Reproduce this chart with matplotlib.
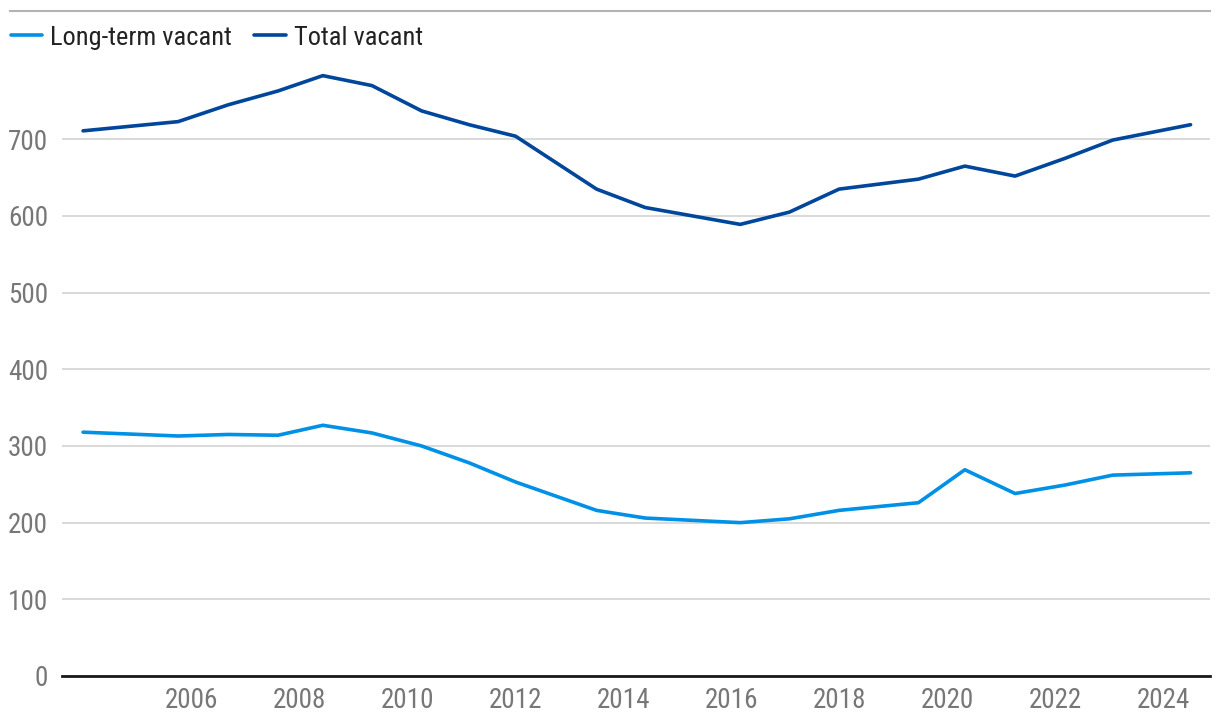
import matplotlib
matplotlib.use('Agg')
import matplotlib.pyplot as plt
from matplotlib import font_manager
from matplotlib.lines import Line2D

# look for a narrow sans face, fall back to DejaVu
installed = {f.name for f in font_manager.fontManager.ttflist}
narrow = [f for f in font_manager.fontManager.ttflist
          if ('Condensed' in f.name or 'Narrow' in f.name
              or 'condensed' in str(f.stretch)) and 'Sans' in f.name]
preferred = ['Roboto Condensed', 'Liberation Sans Narrow', 'Noto Sans Condensed',
             'Open Sans Condensed', 'DejaVu Sans Condensed']
family = next((p for p in preferred if p in installed), None)
stretch = 'normal'
if family is None and narrow:
    family = narrow[0].name
    stretch = narrow[0].stretch
if family is None:
    family = 'DejaVu Sans'
plt.rcParams['font.family'] = [family, 'DejaVu Sans']
plt.rcParams['font.stretch'] = stretch

# survey dates (decimal years)
dates = [2004.0, 2005.76, 2006.69, 2007.61, 2008.44, 2009.35, 2010.27, 2011.15,
         2012.01, 2013.51, 2014.41, 2016.17, 2017.08, 2018.0, 2019.47, 2020.33,
         2021.26, 2022.18, 2023.07, 2024.51]

long_term = [318, 313, 315, 314, 327, 317, 300, 278,
             253, 216, 206, 200, 205, 216, 226, 269,
             238, 249, 262, 265]

total = [711, 723, 745, 763, 783, 770, 737, 719,
         704, 635, 611, 589, 605, 635, 648, 665,
         652, 675, 699, 719]

year_ticks = list(range(2006, 2025, 2))
value_ticks = list(range(0, 701, 100))

fig = plt.figure(figsize=(12.2, 7.2), dpi=100)
ax = fig.add_axes([62 / 1220, 44 / 720, 1148 / 1220, 613.4 / 720])

ax.plot(dates, long_term, color='#0091E6', lw=2.6, solid_capstyle='round',
        label='Long-term vacant', zorder=3)
ax.plot(dates, total, color='#00479B', lw=2.6, solid_capstyle='round',
        label='Total vacant', zorder=3)

ax.set_xlim(2003.61, 2024.87)
ax.set_ylim(0, 800)
ax.set_xticks(year_ticks)
ax.set_yticks(value_ticks)
ax.tick_params(axis='both', length=0, labelsize=19.5, labelcolor='#777777')
ax.tick_params(axis='x', pad=8)
ax.tick_params(axis='y', pad=10)

ax.grid(axis='y', color='#d9d9d9', lw=1.4)
ax.set_axisbelow(True)
for side in ['top', 'right', 'left']:
    ax.spines[side].set_visible(False)
ax.spines['bottom'].set_color('#1a1a1a')
ax.spines['bottom'].set_linewidth(2)
ax.spines['bottom'].set_zorder(4)

# thin rule across the top of the figure
fig.add_artist(Line2D([10 / 1220, 1210 / 1220], [1 - 11 / 720, 1 - 11 / 720],
                      transform=fig.transFigure, color='#b3b3b3', lw=1.5))

fig.legend(loc='upper left', bbox_to_anchor=(0, 1 - 15 / 720), ncol=2,
           frameon=False, fontsize=19, handlelength=1.2, handletextpad=0.3,
           columnspacing=0.85, labelcolor='#222222', borderaxespad=0)

fig.savefig('out.png', dpi=100)
